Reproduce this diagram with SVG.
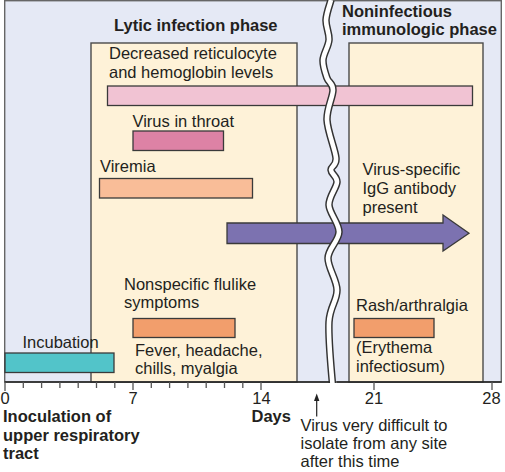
<svg xmlns="http://www.w3.org/2000/svg" width="505" height="472" viewBox="0 0 505 472">
<style>
text{font-family:"Liberation Sans",Arial,Helvetica,sans-serif;font-size:16.5px;fill:#231f20}
.b{font-weight:bold}
.bar{stroke:#3a3a3a;stroke-width:1.3}
.box{fill:#fef2d8;stroke:#4a4a4a;stroke-width:1.4}
.tk{stroke:#555;stroke-width:1.3}
.ax{stroke:#222;stroke-width:1.6;fill:none}
</style>
<rect width="505" height="472" fill="#fff"/>
<g id="frame">
<rect x="4.7" y="0.7" width="496.6" height="381.3" fill="#e5e9f5" stroke="#666" stroke-width="1.4"/>
</g>
<g id="lytic-phase">
<rect class="box" x="91" y="43" width="206" height="339"/>
<text class="b" x="114" y="30.5">Lytic infection phase</text>
</g>
<g id="noninfectious-phase">
<rect class="box" x="349" y="43" width="134" height="339"/>
<text class="b" x="342" y="16.7">Noninfectious</text>
<text class="b" x="342" y="35">immunologic phase</text>
</g>
<g id="reticulocyte">
<text x="109" y="59">Decreased reticulocyte</text>
<text x="109" y="78">and hemoglobin levels</text>
<rect class="bar" x="107.5" y="86" width="365" height="19.5" fill="#f1c3d3"/>
</g>
<g id="virus-throat">
<text x="132.5" y="126.5">Virus in throat</text>
<rect class="bar" x="133" y="131" width="90.5" height="19.5" fill="#dd82a5"/>
</g>
<g id="viremia">
<text x="100" y="171.5">Viremia</text>
<rect class="bar" x="99.5" y="178.5" width="153" height="19.5" fill="#f9bd98"/>
</g>
<g id="igg">
<text x="362.5" y="175">Virus-specific</text>
<text x="362.5" y="194">IgG antibody</text>
<text x="362.5" y="213">present</text>
<polygon class="bar" points="227,223 443,223 443,215 469,233.3 443,251 443,243.5 227,243.5" fill="#7c72b0"/>
</g>
<g id="flulike">
<text x="124" y="290">Nonspecific flulike</text>
<text x="124" y="308">symptoms</text>
<rect class="bar" x="133" y="318.5" width="102" height="19" fill="#f29e6c"/>
<text x="135" y="356">Fever, headache,</text>
<text x="135" y="374">chills, myalgia</text>
</g>
<g id="rash">
<text x="356" y="311">Rash/arthralgia</text>
<rect class="bar" x="354" y="318.5" width="80" height="19" fill="#f29e6c"/>
<text x="356" y="353">(Erythema</text>
<text x="356" y="371.5">infectiosum)</text>
</g>
<g id="incubation">
<text x="22.5" y="348">Incubation</text>
<rect class="bar" x="5" y="353" width="109" height="19.5" fill="#52c4c9"/>
</g>
<g id="break">
<path d="M331,0 C330.2,3.3 326.3,13.3 326,20 C325.7,26.7 329.5,33.3 329,40 C328.5,46.7 323.3,53.7 323,60 C322.7,66.3 325.3,73 327,78 C328.7,83 333,83 333,90 C333,97 326.5,108.7 327,120 C327.5,131.3 335.3,149.7 336,158 C336.7,166.3 330.8,166 331,170 C331.2,174 337.3,176.2 337,182 C336.7,187.8 328.7,196.7 329,205 C329.3,213.3 339.2,223.2 339,232 C338.8,240.8 328.3,248.3 328,258 C327.7,267.7 336.8,279.3 337,290 C337.2,300.7 329.8,306.5 329,322 C328.2,337.5 331.5,373 332.5,384" fill="none" stroke="#333" stroke-width="7.5"/>
<path d="M331,0 C330.2,3.3 326.3,13.3 326,20 C325.7,26.7 329.5,33.3 329,40 C328.5,46.7 323.3,53.7 323,60 C322.7,66.3 325.3,73 327,78 C328.7,83 333,83 333,90 C333,97 326.5,108.7 327,120 C327.5,131.3 335.3,149.7 336,158 C336.7,166.3 330.8,166 331,170 C331.2,174 337.3,176.2 337,182 C336.7,187.8 328.7,196.7 329,205 C329.3,213.3 339.2,223.2 339,232 C338.8,240.8 328.3,248.3 328,258 C327.7,267.7 336.8,279.3 337,290 C337.2,300.7 329.8,306.5 329,322 C328.2,337.5 331.5,373 332.5,384" fill="none" stroke="#fff" stroke-width="4.6"/>
<rect x="326" y="383" width="14" height="6" fill="#fff"/>
</g>
<g id="axis">
<path class="ax" d="M4.7,382 H329.5 M336.5,382 H501.5"/>
<path class="tk" d="M5,382v9 M23.3,382v6 M41.6,382v6 M59.9,382v6 M78.2,382v6 M96.5,382v6 M114.8,382v6 M133,382v8 M151.3,382v6 M169.6,382v6 M187.9,382v6 M206.2,382v6 M224.5,382v6 M242.8,382v6 M261,382v8 M374,382v8 M492,382v8"/>
<g text-anchor="middle">
<text x="5" y="404">0</text>
<text x="133" y="404">7</text>
<text x="261.5" y="404">14</text>
<text x="374" y="404">21</text>
<text x="491.5" y="404">28</text>
</g>
<text class="b" x="3" y="422">Inoculation of</text>
<text class="b" x="3" y="440.5">upper respiratory</text>
<text class="b" x="3" y="459">tract</text>
<text class="b" x="251.5" y="422">Days</text>
</g>
<g id="connectors">
<line x1="316.7" y1="399" x2="316.7" y2="416.5" stroke="#222" stroke-width="1.2"/>
<polygon points="316.7,393.5 314,401 319.4,401" fill="#222"/>
</g>
<g id="note">
<text x="300.5" y="430.5">Virus very difficult to</text>
<text x="300.5" y="449">isolate from any site</text>
<text x="300.5" y="467">after this time</text>
</g>
</svg>
